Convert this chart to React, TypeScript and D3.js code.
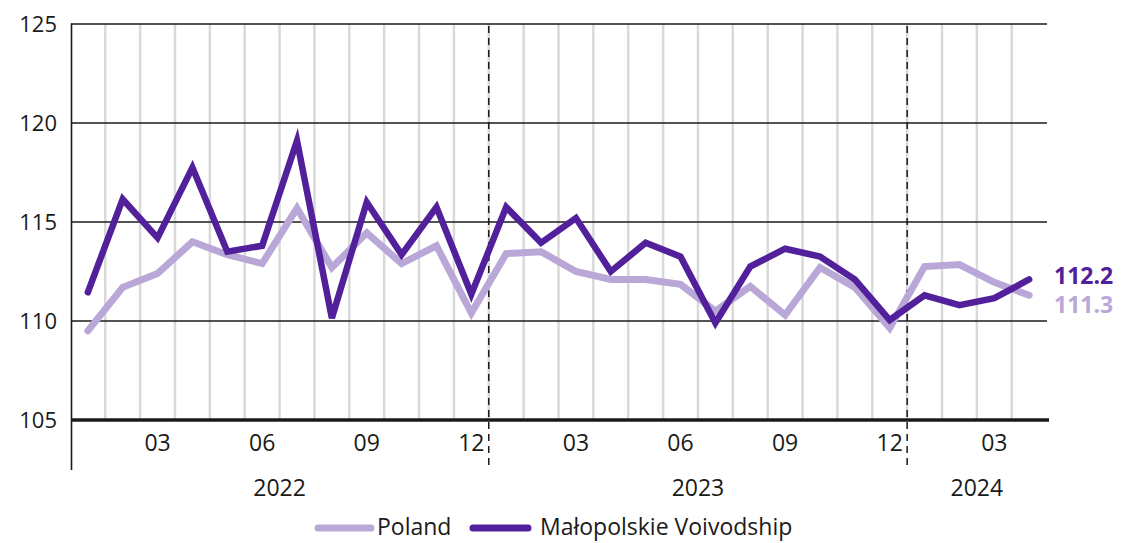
import React from "react";
import * as d3 from "d3";

const months: string[] = [
  "2022-01","2022-02","2022-03","2022-04","2022-05","2022-06","2022-07","2022-08","2022-09","2022-10","2022-11","2022-12",
  "2023-01","2023-02","2023-03","2023-04","2023-05","2023-06","2023-07","2023-08","2023-09","2023-10","2023-11","2023-12",
  "2024-01","2024-02","2024-03","2024-04",
];
const poland: number[] = [
  109.5, 111.7, 112.4, 114.0, 113.35, 112.9, 115.7, 112.7, 114.45, 112.9, 113.8, 110.4,
  113.4, 113.5, 112.5, 112.1, 112.1, 111.85, 110.5, 111.75, 110.3, 112.7, 111.7, 109.65,
  112.75, 112.85, 111.95, 111.3,
];
const malopolska: number[] = [
  111.45, 116.15, 114.2, 117.75, 113.5, 113.8, 119.1, 110.15, 116.0, 113.35, 115.75, 111.35,
  115.75, 113.95, 115.2, 112.5, 113.95, 113.25, 109.9, 112.75, 113.65, 113.25, 112.1, 110.05,
  111.3, 110.8, 111.15, 112.1,
];
const yTicks: number[] = [105, 110, 115, 120, 125];
const monthTickLabels: string[] = ["03", "06", "09", "12"];
const years: string[] = ["2022", "2023", "2024"];
const endLabels: string[] = ["112.2", "111.3"];
const seriesNames: string[] = ["Poland", "Małopolskie Voivodship"];

const W = 1122;
const H = 543;
const FONT = "'Open Sans', sans-serif";
const DARK = "#51209a";
const LIGHT = "#b9a7d7";

export default function App() {
  const x = d3.scaleBand<string>().domain(months).range([70.4, 1046.6]).padding(0);
  const y = d3.scaleLinear().domain([105, 125]).range([420, 24]);
  const cx = (m: string) => (x(m) as number) + x.bandwidth() / 2;
  const line = d3
    .line<number>()
    .x((_, i) => cx(months[i]))
    .y((v) => y(v));

  const boundaries = months.slice(1).map((m) => x(m) as number);
  const yearStarts = months.filter((m) => m.endsWith("-01") && m !== months[0]).map((m) => x(m) as number);
  const monthTicks = months.filter((m) => monthTickLabels.includes(m.slice(5)));
  const yearCenters = years.map((yr) => {
    const ms = months.filter((m) => m.startsWith(yr));
    const a = x(ms[0]) as number;
    const b = (x(ms[ms.length - 1]) as number) + x.bandwidth();
    return (a + b) / 2;
  });
  const last = months.length - 1;

  return (
    <svg width={W} height={H} style={{ position: "absolute", left: 0, top: 0, background: "#fff" }} fontFamily={FONT}>
      <rect x={0} y={0} width={W} height={H} fill="#fff" />
      {boundaries.map((bx, i) => (
        <line key={"vg" + i} x1={bx} x2={bx} y1={24} y2={420} stroke="#d9d9d9" strokeWidth={2.5} />
      ))}
      {yTicks.filter((t) => t !== 105).map((t) => (
        <line key={"hg" + t} x1={71} x2={1047} y1={y(t)} y2={y(t)} stroke="#1a1a1a" strokeWidth={1.3} />
      ))}
      {yearStarts.map((bx, i) => (
        <line key={"ds" + i} x1={bx} x2={bx} y1={26} y2={470} stroke="#1a1a1a" strokeWidth={1.5} strokeDasharray="7,5" />
      ))}
      <line x1={71.5} x2={71.5} y1={23.5} y2={470} stroke="#1a1a1a" strokeWidth={1.6} />
      <line x1={71} x2={1049} y1={y(105)} y2={y(105)} stroke="#1a1a1a" strokeWidth={3.5} />
      {yTicks.map((t) => (
        <text key={"yt" + t} x={57} y={y(t)} dy="0.35em" textAnchor="end" fontSize={22} fill="#1a1a1a">
          {t}
        </text>
      ))}
      {monthTicks.map((m) => (
        <text key={"mt" + m} x={cx(m)} y={443} dy="0.35em" textAnchor="middle" fontSize={23} fill="#1a1a1a">
          {m.slice(5)}
        </text>
      ))}
      {years.map((yr, i) => (
        <text key={"yr" + yr} x={yearCenters[i]} y={487.5} dy="0.35em" textAnchor="middle" fontSize={23} fill="#1a1a1a">
          {yr}
        </text>
      ))}
      <path d={line(poland) || ""} fill="none" stroke={LIGHT} strokeWidth={7} strokeLinejoin="miter" strokeLinecap="round" />
      <path d={line(malopolska) || ""} fill="none" stroke={DARK} strokeWidth={6.5} strokeLinejoin="miter" strokeLinecap="round" />
      <text x={1054} y={y(malopolska[last]) - 3} dy="0.35em" fontSize={23} fontWeight={700} fill={DARK}>
        {endLabels[0]}
      </text>
      <text x={1054} y={y(poland[last]) + 10} dy="0.35em" fontSize={23} fontWeight={700} fill={LIGHT}>
        {endLabels[1]}
      </text>
      <line x1={318} x2={371} y1={528} y2={528} stroke={LIGHT} strokeWidth={7} strokeLinecap="round" />
      <text x={377} y={527} dy="0.35em" fontSize={23} fill="#1a1a1a">{seriesNames[0]}</text>
      <line x1={473} x2={528} y1={528} y2={528} stroke={DARK} strokeWidth={7} strokeLinecap="round" />
      <text x={540} y={527} dy="0.35em" fontSize={23} fill="#1a1a1a">{seriesNames[1]}</text>
    </svg>
  );
}
